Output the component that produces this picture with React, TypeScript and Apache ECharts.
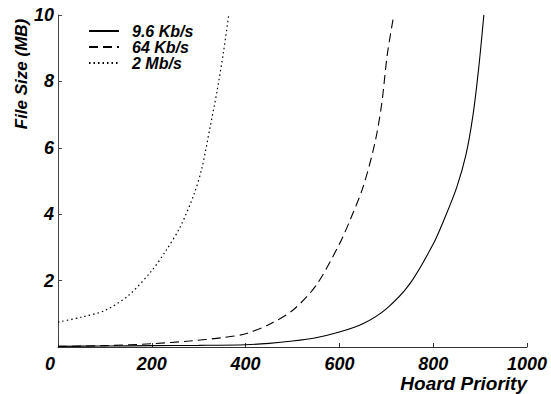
import React, { useEffect, useRef } from "react";
import * as echarts from "echarts";

const seriesNames = ["9.6 Kb/s", "64 Kb/s", "2 Mb/s"];

const slowX = [0, 100, 200, 300, 400, 450, 500, 550, 600, 650, 700, 750, 800, 825, 850, 870, 885, 897, 908];
const slowY = [0.02, 0.03, 0.04, 0.05, 0.07, 0.11, 0.18, 0.28, 0.45, 0.7, 1.15, 1.9, 3.1, 3.9, 4.8, 5.8, 7.0, 8.4, 10];

const midX = [0, 100, 200, 280, 350, 400, 450, 500, 550, 600, 625, 650, 675, 690, 702, 716];
const midY = [0.02, 0.04, 0.1, 0.18, 0.28, 0.4, 0.68, 1.1, 1.85, 3.1, 3.9, 4.8, 6.1, 7.3, 8.8, 10];

const fastX = [0, 50, 100, 150, 200, 230, 260, 290, 307, 324, 339, 353, 364];
const fastY = [0.75, 0.9, 1.1, 1.55, 2.3, 2.9, 3.6, 4.6, 5.4, 6.6, 7.7, 8.9, 10];

const xTicks = { min: 0, max: 1000, interval: 200 };
const yTicks = { min: 0, max: 10, interval: 2 };

const FONT = "'Liberation Sans', Arial, Helvetica, sans-serif";

const pair = (xs: number[], ys: number[]) => xs.map((x, i) => [x, ys[i]]);

export default function App() {
  const ref = useRef<HTMLDivElement>(null);
  useEffect(() => {
    if (!ref.current) return;
    const chart = echarts.init(ref.current, undefined, { renderer: "svg" });
    const labelStyle = {
      fontFamily: FONT,
      fontWeight: "bold" as const,
      fontStyle: "italic" as const,
      fontSize: 18,
      color: "#000",
    };
    const lineSeries = (name: string, data: number[][], width: number, type: any) => ({
      name,
      type: "line",
      data,
      symbol: "none",
      showSymbol: false,
      smooth: 0.3,
      lineStyle: { color: "#000", width, type },
      itemStyle: { color: "#000" },
    });
    chart.setOption({
      animation: false,
      backgroundColor: "#fff",
      grid: { left: 58, right: 24, top: 15, bottom: 47, containLabel: false },
      legend: {
        orient: "vertical",
        left: 83,
        top: 18,
        itemWidth: 30,
        itemHeight: 10,
        itemGap: 0,
        data: seriesNames,
        itemStyle: { opacity: 0, borderWidth: 0 },
        textStyle: {
          fontFamily: FONT,
          fontWeight: "bold",
          fontStyle: "italic",
          fontSize: 16,
          lineHeight: 15,
          color: "#000",
          padding: [0, 0, 0, 8],
        },
      },
      xAxis: {
        type: "value",
        min: xTicks.min,
        max: xTicks.max,
        interval: xTicks.interval,
        splitLine: { show: false },
        axisLine: { show: true, onZero: false, lineStyle: { color: "#333", width: 1 } },
        axisTick: { show: true, inside: true, length: 4, lineStyle: { color: "#333" } },
        axisLabel: {
          ...labelStyle,
          margin: 8,
          formatter: (v: number) => (v === 0 ? "{z|0}" : String(v)),
          rich: { z: { ...labelStyle, padding: [0, 16, 0, 0] } },
        },
      },
      yAxis: {
        type: "value",
        min: yTicks.min,
        max: yTicks.max,
        interval: yTicks.interval,
        splitLine: { show: false },
        axisLine: { show: true, onZero: false, lineStyle: { color: "#444", width: 1 } },
        axisTick: { show: true, inside: true, length: 4, lineStyle: { color: "#444" } },
        axisLabel: {
          ...labelStyle,
          margin: 4,
          showMinLabel: false,
          formatter: (v: number) => (v === 0 ? "" : String(v)),
        },
      },
      graphic: [
        {
          type: "text",
          right: 24,
          top: 374,
          style: {
            text: "Hoard Priority",
            fontFamily: FONT,
            fontWeight: "bold",
            fontStyle: "italic",
            fontSize: 19,
            fill: "#000",
          },
        },
        {
          type: "text",
          x: 21,
          y: 74,
          rotation: Math.PI / 2,
          style: {
            text: "File Size (MB)",
            fontFamily: FONT,
            fontWeight: "bold",
            fontStyle: "italic",
            fontSize: 17,
            fill: "#000",
            align: "center",
            verticalAlign: "middle",
          },
        },
      ],
      series: [
        lineSeries(seriesNames[0], pair(slowX, slowY), 1.1, "solid"),
        lineSeries(seriesNames[1], pair(midX, midY), 1.1, [9, 5]),
        lineSeries(seriesNames[2], pair(fastX, fastY), 1.2, [1.5, 3]),
      ],
    });
    return () => chart.dispose();
  }, []);
  return <div ref={ref} style={{ width: 551, height: 394, position: "absolute", left: 0, top: 0 }} />;
}
